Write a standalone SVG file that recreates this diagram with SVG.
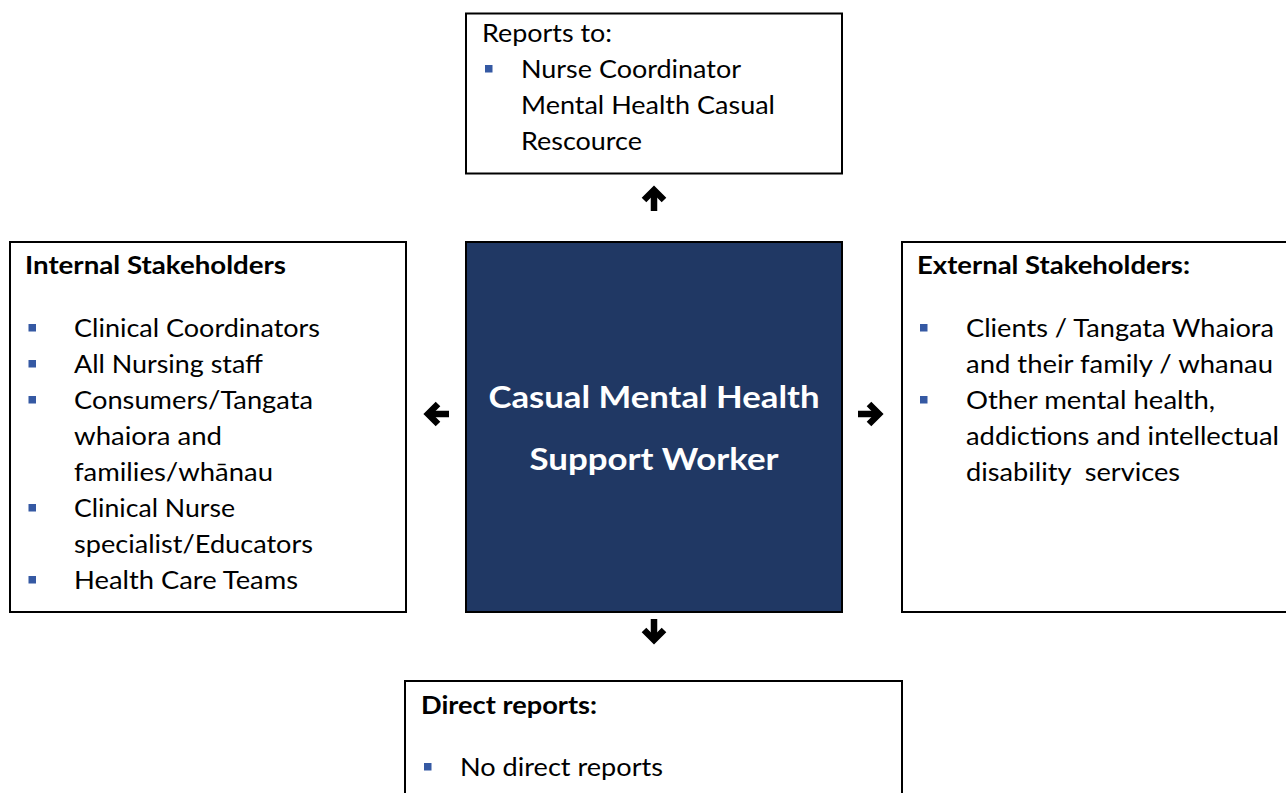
<svg xmlns="http://www.w3.org/2000/svg" width="1286" height="793" viewBox="0 0 1286 793">
<style>
.box{fill:#ffffff;stroke:#000000;stroke-width:2}
.core{fill:#203864;stroke:#000000;stroke-width:2}
.t{font-family:Lato,"Liberation Sans",sans-serif;font-size:24.5px;fill:#000000}
.b{font-weight:bold}
.c{font-family:Lato,"Liberation Sans",sans-serif;font-size:31px;font-weight:bold;fill:#ffffff;text-anchor:middle}
.bul{fill:#3559A3}
.arr{fill:none;stroke:#000000;stroke-width:6.5;stroke-linejoin:miter;stroke-miterlimit:10}
</style>
<defs>
<g id="arrow">
<path class="arr" d="M-13,0 H7"/>
<path class="arr" d="M-2,-10 L8,0 L-2,10"/>
</g>
</defs>
<rect width="1286" height="793" fill="#ffffff"/>
<g id="connectors">
<use href="#arrow" transform="translate(654,198) rotate(-90)"/>
<use href="#arrow" transform="translate(654,632) rotate(90)"/>
<use href="#arrow" transform="translate(436,414) rotate(180)"/>
<use href="#arrow" transform="translate(871,414)"/>
</g>
<g id="reports-to">
<rect class="box" x="466" y="13.5" width="376" height="160"/>
<text class="t" x="482" y="42" textLength="130" lengthAdjust="spacingAndGlyphs">Reports to:</text>
<rect class="bul" x="485" y="65" width="7.5" height="7.5"/>
<text class="t" x="521" y="78" textLength="220" lengthAdjust="spacingAndGlyphs">Nurse Coordinator</text>
<text class="t" x="521" y="114" textLength="254" lengthAdjust="spacingAndGlyphs">Mental Health Casual</text>
<text class="t" x="521" y="150" textLength="121" lengthAdjust="spacingAndGlyphs">Rescource</text>
</g>
<g id="center">
<rect class="core" x="466" y="242" width="376" height="370"/>
<text class="c" x="654" y="408" textLength="331" lengthAdjust="spacingAndGlyphs">Casual Mental Health</text>
<text class="c" x="654" y="470" textLength="249" lengthAdjust="spacingAndGlyphs">Support Worker</text>
</g>
<g id="internal">
<rect class="box" x="10" y="242" width="396" height="370"/>
<text class="t b" x="25" y="274" textLength="261" lengthAdjust="spacingAndGlyphs">Internal Stakeholders</text>
<rect class="bul" x="28.5" y="324" width="7.5" height="7.5"/>
<text class="t" x="74" y="337" textLength="246" lengthAdjust="spacingAndGlyphs">Clinical Coordinators</text>
<rect class="bul" x="28.5" y="360" width="7.5" height="7.5"/>
<text class="t" x="74" y="373" textLength="189" lengthAdjust="spacingAndGlyphs">All Nursing staff</text>
<rect class="bul" x="28.5" y="396" width="7.5" height="7.5"/>
<text class="t" x="74" y="409" textLength="239" lengthAdjust="spacingAndGlyphs">Consumers/Tangata</text>
<text class="t" x="74" y="445" textLength="148" lengthAdjust="spacingAndGlyphs">whaiora and</text>
<text class="t" x="74" y="481" textLength="199" lengthAdjust="spacingAndGlyphs">families/whānau</text>
<rect class="bul" x="28.5" y="504" width="7.5" height="7.5"/>
<text class="t" x="74" y="517" textLength="161" lengthAdjust="spacingAndGlyphs">Clinical Nurse</text>
<text class="t" x="74" y="553" textLength="239" lengthAdjust="spacingAndGlyphs">specialist/Educators</text>
<rect class="bul" x="28.5" y="576" width="7.5" height="7.5"/>
<text class="t" x="74" y="589" textLength="224" lengthAdjust="spacingAndGlyphs">Health Care Teams</text>
</g>
<g id="external">
<rect class="box" x="902" y="242" width="400" height="370"/>
<text class="t b" x="917" y="274" textLength="273" lengthAdjust="spacingAndGlyphs">External Stakeholders:</text>
<rect class="bul" x="920" y="324" width="7.5" height="7.5"/>
<text class="t" x="966" y="337" textLength="308" lengthAdjust="spacingAndGlyphs">Clients / Tangata Whaiora</text>
<text class="t" x="966" y="373" textLength="307" lengthAdjust="spacingAndGlyphs">and their family / whanau</text>
<rect class="bul" x="920" y="396" width="7.5" height="7.5"/>
<text class="t" x="966" y="409" textLength="249" lengthAdjust="spacingAndGlyphs">Other mental health,</text>
<text class="t" x="966" y="445" textLength="313" lengthAdjust="spacingAndGlyphs">addictions and intellectual</text>
<text class="t" x="966" y="481" textLength="214" lengthAdjust="spacingAndGlyphs" xml:space="preserve">disability  services</text>
</g>
<g id="direct-reports">
<rect class="box" x="405" y="681" width="497" height="130"/>
<text class="t b" x="421" y="714" textLength="176" lengthAdjust="spacingAndGlyphs">Direct reports:</text>
<rect class="bul" x="424" y="763" width="7.5" height="7.5"/>
<text class="t" x="460" y="776" textLength="203" lengthAdjust="spacingAndGlyphs">No direct reports</text>
</g>
</svg>
